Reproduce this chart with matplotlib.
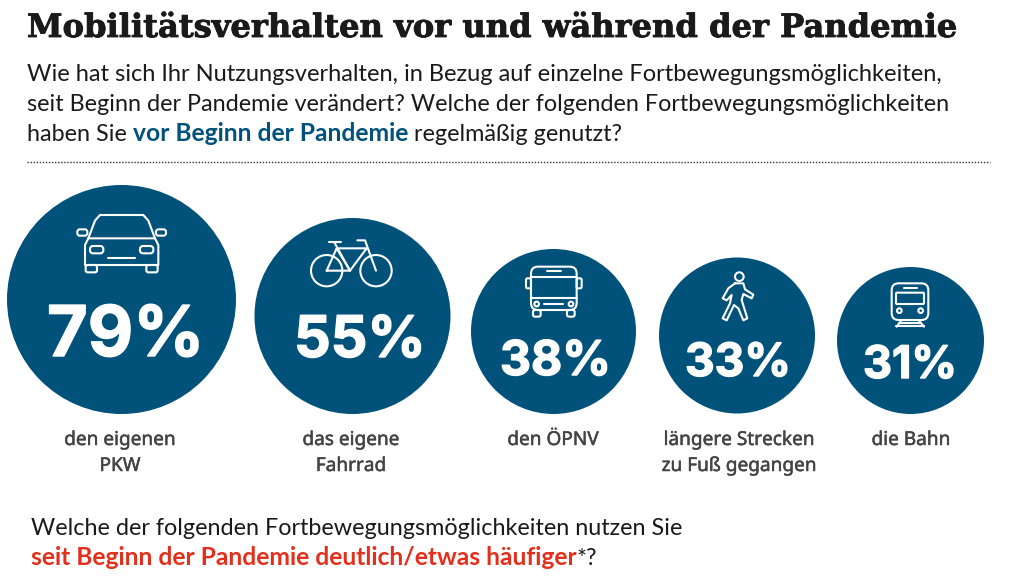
import matplotlib
matplotlib.use("Agg")
import matplotlib.pyplot as plt
import matplotlib.patheffects as pe
from matplotlib.patches import Circle, FancyBboxPatch

# ---- data ----
percent_values = [79, 55, 38, 33, 31]
labels = [
    ["den eigenen", "PKW"],
    ["das eigene", "Fahrrad"],
    ["den ÖPNV"],
    ["längere Strecken", "zu Fuß gegangen"],
    ["die Bahn"],
]
title = "Mobilitätsverhalten vor und während der Pandemie"
intro_1 = "Wie hat sich Ihr Nutzungsverhalten, in Bezug auf einzelne Fortbewegungsmöglichkeiten,"
intro_2 = "seit Beginn der Pandemie verändert? Welche der folgenden Fortbewegungsmöglichkeiten"
intro_3 = ["haben Sie ", "vor Beginn der Pandemie", " regelmäßig genutzt?"]
outro_1 = "Welche der folgenden Fortbewegungsmöglichkeiten nutzen Sie"
outro_2 = ["seit Beginn der Pandemie deutlich/etwas häufiger", "*?"]

# ---- layout in pixels ----
circle_x = [121.5, 352.5, 553.5, 737, 910.5]
circle_y = [299.5, 316, 331.5, 335.5, 340.5]
circle_r = [114.5, 98, 82.5, 78, 73.5]
pct_left = [47, 294, 500, 685, 863]
pct_right = [204, 425, 611, 791, 957]
pct_base = [356, 357, 375, 376, 378]
label_x = [120, 351, 553, 739, 911]

BLUE = "#00527B"
RED = "#E2301C"
INK = "#1A1A1A"
GREY = "#444444"
BODY = "Lato"

fig = plt.figure(figsize=(10.24, 5.76), dpi=100)
ax = fig.add_axes([0, 0, 1, 1])
ax.set_xlim(0, 1024)
ax.set_ylim(576, 0)
ax.axis("off")
renderer = fig.canvas.get_renderer()


def fit_text(s, left, right, base, **kw):
    # scale the font so the text runs from left to right
    t = ax.text(left, base, s, va="baseline", ha="left", fontsize=20, **kw)
    w = t.get_window_extent(renderer).width
    t.set_fontsize(20 * (right - left) / w)
    return t


def runs(parts, x, base):
    # several coloured pieces on one line
    for s, color, weight, size in parts:
        ax.text(x, base, s, va="baseline", ha="left", fontsize=size,
                color=color, fontweight=weight, family=BODY)
        # spaces at the ends are not measured, so use a stand-in
        m = ax.text(0, 0, "n" + s + "n", fontsize=size, fontweight=weight, family=BODY)
        n = ax.text(0, 0, "nn", fontsize=size, fontweight=weight, family=BODY)
        x += m.get_window_extent(renderer).width - n.get_window_extent(renderer).width
        m.remove(), n.remove()
    return x


def line(pts, ox, oy, lw=1.5):
    xs = [ox + p[0] / 3 for p in pts]
    ys = [oy + p[1] / 3 for p in pts]
    ax.plot(xs, ys, color="white", lw=lw, solid_capstyle="round", solid_joinstyle="round", zorder=3)


def rbox(x0, y0, x1, y1, ox, oy, rad=2.5, lw=1.5):
    ax.add_patch(FancyBboxPatch((ox + x0 / 3, oy + y0 / 3), (x1 - x0) / 3, (y1 - y0) / 3,
                                boxstyle=f"round,pad=0,rounding_size={rad}",
                                fc="none", ec="white", lw=lw, zorder=3))


def ring(cx, cy, r, ox, oy, lw=1.5):
    ax.add_patch(Circle((ox + cx / 3, oy + cy / 3), r / 3, fc="none", ec="white", lw=lw, zorder=3))


def car():
    ox, oy = 0, 180
    line([(265, 175), (285, 122), (300, 105), (430, 105), (445, 122), (465, 175)], ox, oy)
    line([(265, 175), (255, 195), (255, 255), (475, 255), (475, 195), (465, 175), (265, 175)], ox, oy)
    rbox(232, 148, 262, 167, ox, oy)
    rbox(468, 148, 498, 167, ox, oy)
    rbox(270, 198, 310, 220, ox, oy, 3)
    rbox(420, 198, 460, 220, ox, oy, 3)
    line([(325, 233), (405, 233)], ox, oy)
    rbox(257, 255, 291, 277, ox, oy, 2)
    rbox(439, 255, 473, 277, ox, oy, 2)


def bike():
    ox, oy = 0, 180
    ring(980, 272, 47, ox, oy)
    ring(1128, 272, 47, ox, oy)
    line([(980, 272), (1050, 272), (1010, 205), (980, 272)], ox, oy)
    line([(1010, 205), (1100, 205), (1050, 272)], ox, oy)
    line([(1003, 187), (1050, 272)], ox, oy)
    line([(988, 187), (1022, 187)], ox, oy)
    line([(1072, 181), (1095, 181), (1128, 272)], ox, oy)


def bus():
    ox, oy = 460, 220
    rbox(213, 140, 350, 270, ox, oy, 7)
    line([(213, 170), (350, 170)], ox, oy)
    line([(213, 235), (350, 235)], ox, oy)
    rbox(198, 175, 213, 205, ox, oy, 1.5)
    rbox(350, 175, 365, 205, ox, oy, 1.5)
    line([(260, 152), (303, 152)], ox, oy)
    ring(230, 252, 7, ox, oy)
    ring(333, 252, 7, ox, oy)
    line([(252, 253), (310, 253)], ox, oy)
    rbox(219, 270, 242, 290, ox, oy, 2)
    rbox(321, 270, 344, 290, ox, oy, 2)


def walker():
    ox, oy = 460, 220
    ring(838, 170, 13, ox, oy)
    line([(825, 190), (850, 190), (855, 208), (880, 224), (875, 235), (850, 222), (845, 240),
          (862, 295), (850, 301), (835, 265), (822, 255), (800, 301), (788, 295), (810, 250),
          (815, 225), (800, 241), (788, 235), (805, 205), (825, 190)], ox, oy)


def train():
    ox, oy = 460, 220
    rbox(1295, 190, 1405, 300, ox, oy, 7)
    rbox(1308, 218, 1392, 252, ox, oy, 1)
    line([(1332, 205), (1372, 205)], ox, oy)
    ring(1318, 272, 7, ox, oy)
    ring(1382, 272, 7, ox, oy)
    line([(1325, 300), (1310, 320)], ox, oy)
    line([(1375, 300), (1392, 320)], ox, oy)
    line([(1308, 318), (1392, 318)], ox, oy)
    line([(1318, 308), (1382, 308)], ox, oy)


# ---- header ----
t = fit_text(title, 27, 958, 37, family="DejaVu Serif", fontweight="bold", color=INK)
t.set_path_effects([pe.withStroke(linewidth=0.6, foreground=INK)])
SIZE = 16.85
BOLD = 17.75
fit_text(intro_1, 27, 945, 81, family=BODY, color=INK)
fit_text(intro_2, 27, 952, 111, family=BODY, color=INK)
runs([(intro_3[0], INK, "normal", SIZE), (intro_3[1], BLUE, "bold", BOLD),
      (intro_3[2], INK, "normal", SIZE)], 27, 141)
ax.plot([27, 990], [162, 162], color="#333333", lw=1.0, ls=(0, (1, 1.2)))

# ---- circles ----
for i, v in enumerate(percent_values):
    ax.add_patch(Circle((circle_x[i], circle_y[i]), circle_r[i], fc=BLUE, ec="none", zorder=2))
    t = fit_text(f"{v}%", pct_left[i], pct_right[i], pct_base[i], family="Inter",
                 fontweight="bold", color="white", zorder=3)
    t.set_path_effects([pe.withStroke(linewidth=1.0, foreground="white")])
    for j, s in enumerate(labels[i]):
        t = ax.text(label_x[i], 445 + 26 * j, s, ha="center", va="baseline", fontsize=13.7,
                    family="Noto Sans", color=GREY)
        t.set_path_effects([pe.withStroke(linewidth=0.35, foreground=GREY)])

car()
bike()
bus()
walker()
train()

# ---- footer ----
fit_text(outro_1, 31, 683, 535, family=BODY, color=INK)
runs([(outro_2[0], RED, "bold", BOLD), (outro_2[1], INK, "normal", SIZE)], 31, 565)

fig.savefig("out.png", dpi=100, facecolor="white")
